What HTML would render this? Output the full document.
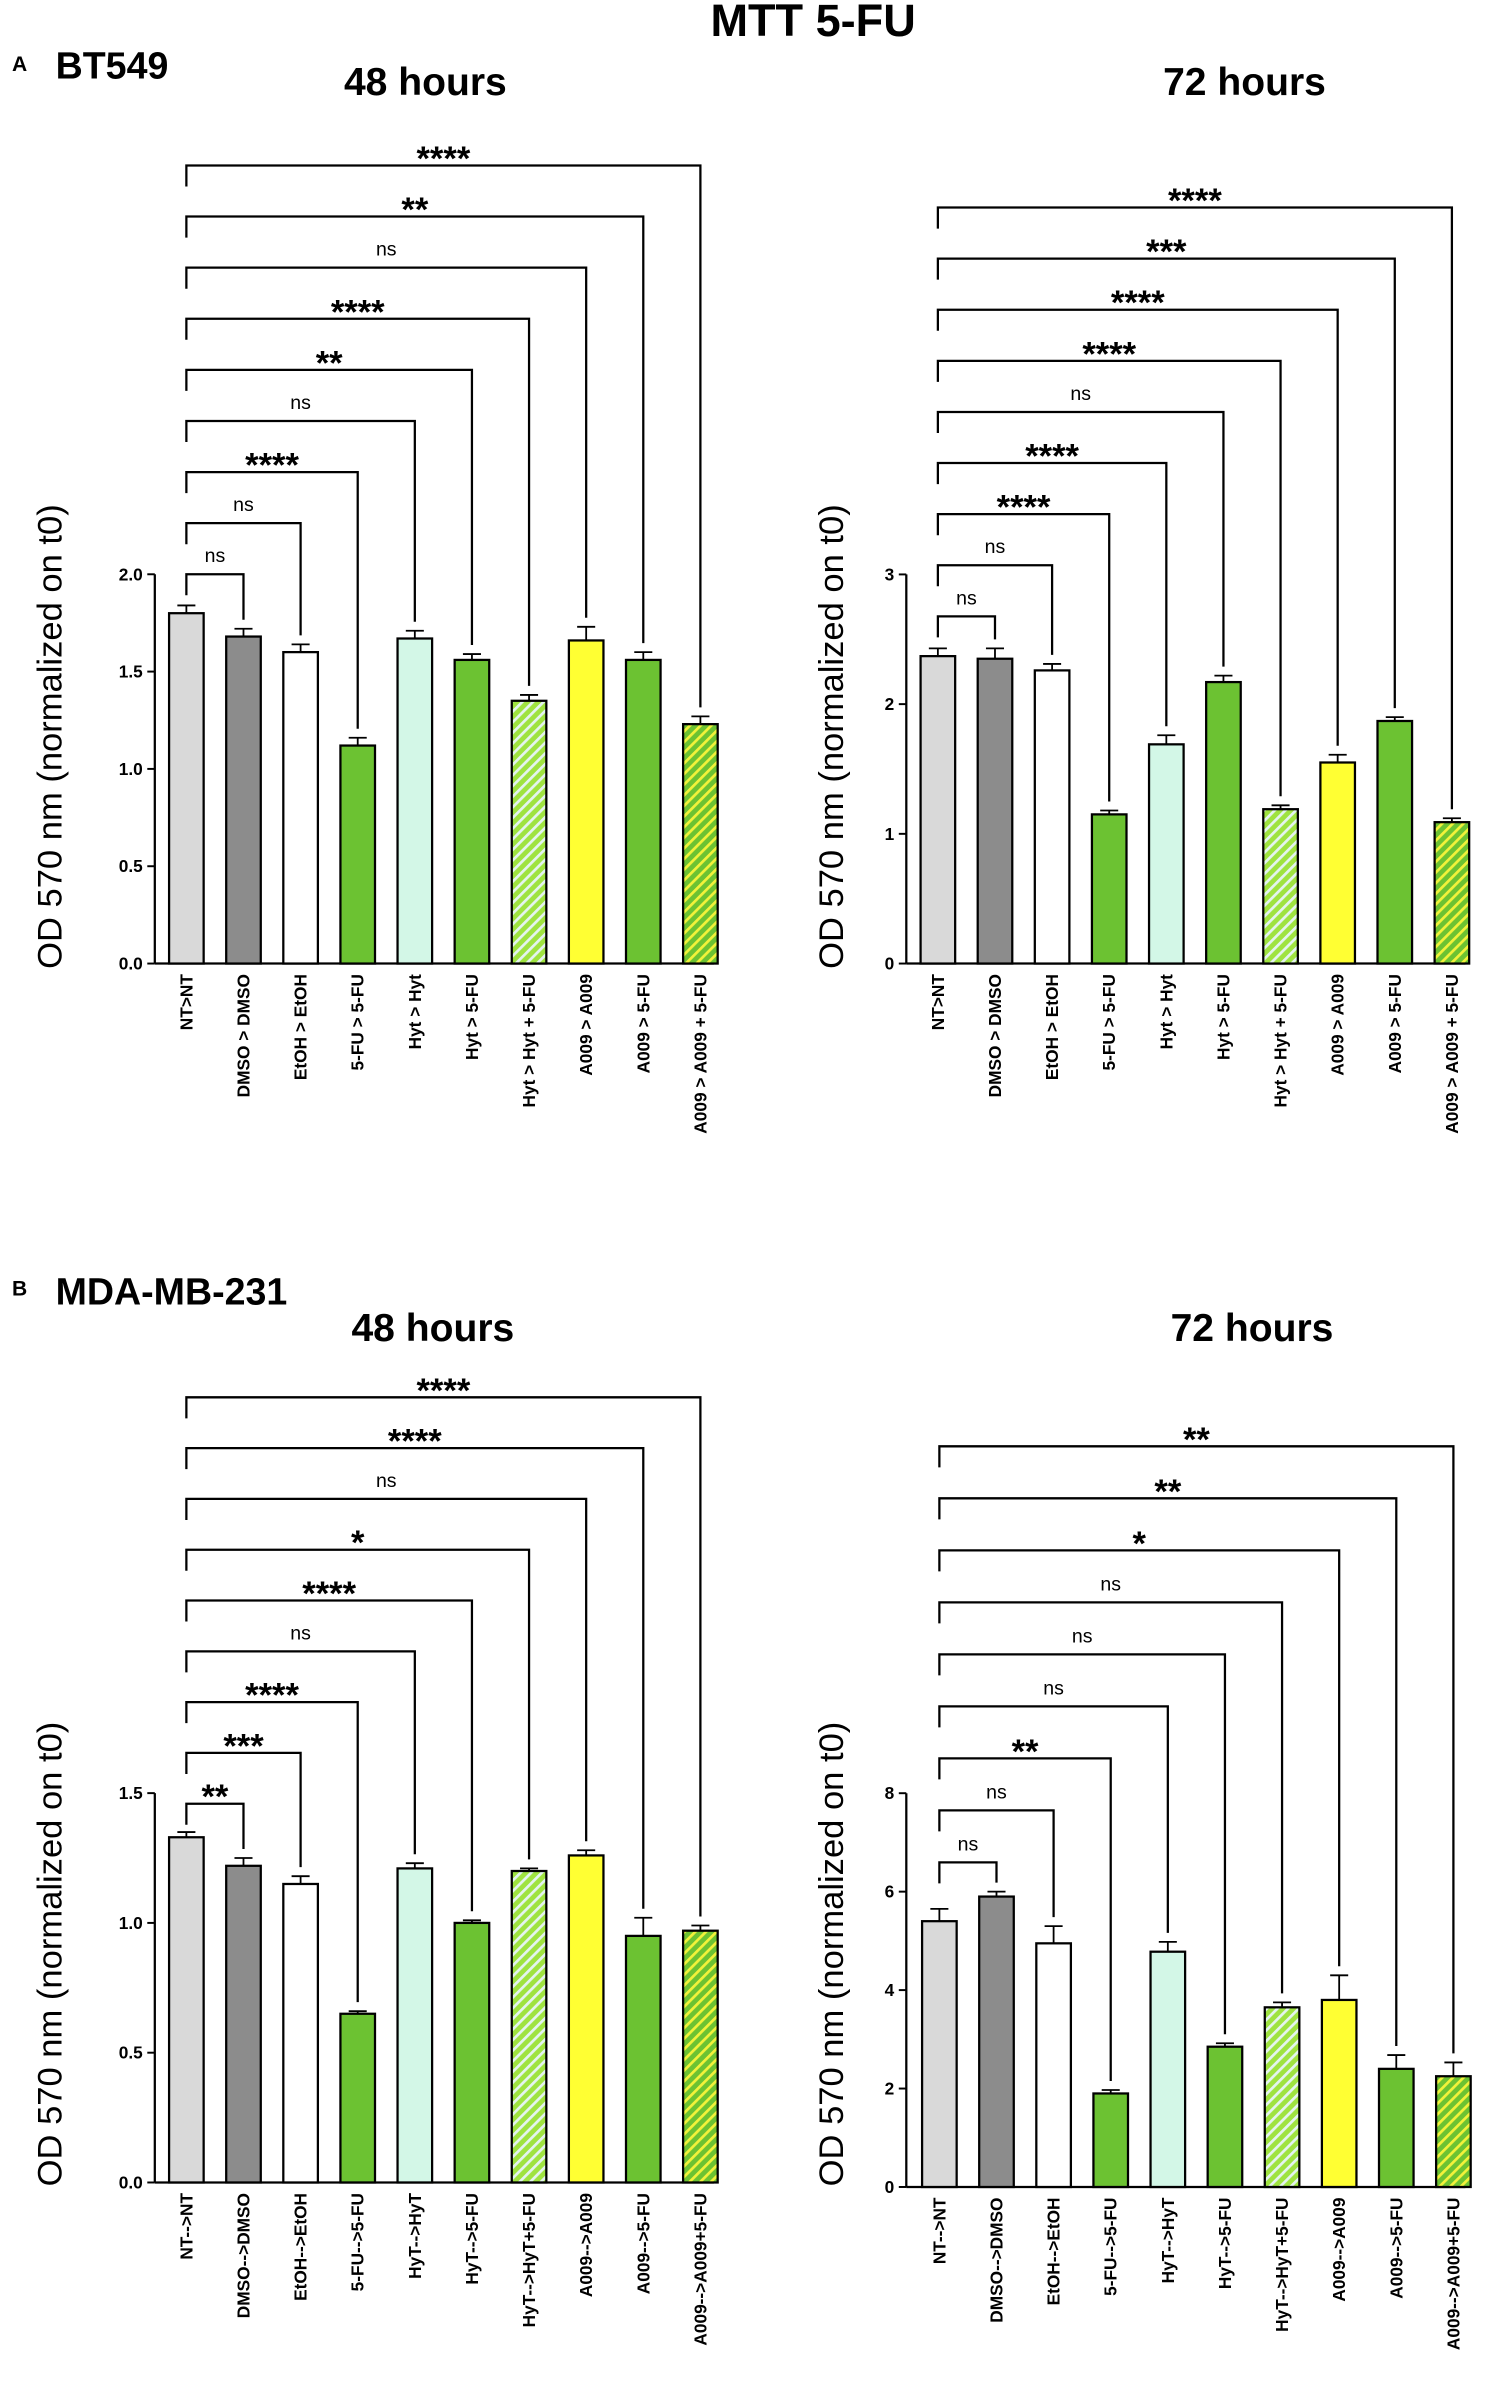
<!DOCTYPE html>
<html><head><meta charset="utf-8"><style>
html,body{margin:0;padding:0;background:#fff}
svg{display:block}
text{font-family:"Liberation Sans",Arial,sans-serif}
</style></head><body>
<svg id="s" width="1503" height="2381" viewBox="0 0 1000 1584" xmlns="http://www.w3.org/2000/svg">
<defs>
<pattern id="h1" patternUnits="userSpaceOnUse" width="5" height="5" patternTransform="rotate(45)">
<rect width="5" height="5" fill="#9fe340"/><rect width="1.8" height="5" fill="#e4f4f0"/></pattern>
<pattern id="h2" patternUnits="userSpaceOnUse" width="5" height="5" patternTransform="rotate(45)">
<rect width="5" height="5" fill="#6cc232"/><rect width="1.8" height="5" fill="#f2f23a"/></pattern>
</defs>
<text x="541" y="24" font-size="30" font-weight="bold" text-anchor="middle">MTT 5-FU</text>
<text x="8" y="47" font-size="14" font-weight="bold">A</text>
<text x="37" y="52" font-size="25" font-weight="bold">BT549</text>
<text x="283" y="63" font-size="26" font-weight="bold" text-anchor="middle">48 hours</text>
<text x="828" y="63" font-size="26" font-weight="bold" text-anchor="middle">72 hours</text>
<text x="8" y="862" font-size="14" font-weight="bold">B</text>
<text x="37" y="868" font-size="25" font-weight="bold">MDA-MB-231</text>
<text x="288" y="892" font-size="26" font-weight="bold" text-anchor="middle">48 hours</text>
<text x="833" y="892" font-size="26" font-weight="bold" text-anchor="middle">72 hours</text>
<g id="g"></g>
</svg>
<script>
var g=document.getElementById('g'),h='';
var fills=['#d9d9d9','#8c8c8c','#ffffff','#6cc232','#d3f7e7','#6cc232','url(#h1)','#ffff33','#6cc232','url(#h2)'];
var la=['NT>NT','DMSO > DMSO','EtOH > EtOH','5-FU > 5-FU','Hyt > Hyt','Hyt > 5-FU','Hyt > Hyt + 5-FU','A009 > A009','A009 > 5-FU','A009 > A009 + 5-FU'];
var lb=['NT-->NT','DMSO-->DMSO','EtOH-->EtOH','5-FU-->5-FU','HyT-->HyT','HyT-->5-FU','HyT-->HyT+5-FU','A009-->A009','A009-->5-FU','A009-->A009+5-FU'];
var P=[
{ax:103,y0:641,ppu:129.5,ticks:[0,.5,1,1.5,2],dec:1,x0:124,xe:475,lv0:382,st:34,lab:la,
 v:[1.80,1.68,1.60,1.12,1.67,1.56,1.35,1.66,1.56,1.23],e:[.04,.04,.04,.04,.04,.03,.03,.07,.04,.04],
 s:['ns','ns','****','ns','**','****','ns','**','****'],yl:[33,490]},
{ax:603,y0:641,ppu:86.3,ticks:[0,1,2,3],dec:0,x0:624,xe:975,lv0:410,st:34,lab:la,
 v:[2.37,2.35,2.26,1.15,1.69,2.17,1.19,1.55,1.87,1.09],e:[.06,.08,.05,.03,.07,.05,.03,.06,.03,.03],
 s:['ns','ns','****','****','ns','****','****','***','****'],yl:[553,490]},
{ax:103,y0:1452,ppu:172.7,ticks:[0,.5,1,1.5],dec:1,x0:124,xe:475,lv0:1200,st:33.8,lab:lb,
 v:[1.33,1.22,1.15,0.65,1.21,1.00,1.20,1.26,0.95,0.97],e:[.02,.03,.03,.01,.02,.01,.01,.02,.07,.02],
 s:['**','***','****','ns','****','*','ns','****','****'],yl:[33,1300]},
{ax:603,y0:1455,ppu:32.75,ticks:[0,2,4,6,8],dec:0,x0:625,xe:975,lv0:1239,st:34.6,lab:lb,
 v:[5.4,5.9,4.95,1.9,4.78,2.85,3.65,3.8,2.4,2.25],e:[.25,.1,.35,.07,.2,.07,.1,.5,.28,.28],
 s:['ns','ns','**','ns','ns','ns','*','**','**'],yl:[553,1300]}];
P.forEach(function(p){
 var sp=38,bw=23,top=p.y0-p.ticks[p.ticks.length-1]*p.ppu;
 h+='<line x1="'+p.ax+'" y1="'+top+'" x2="'+p.ax+'" y2="'+p.y0+'" stroke="#000" stroke-width="1.5"/>';
 h+='<line x1="'+p.ax+'" y1="'+p.y0+'" x2="'+p.xe+'" y2="'+p.y0+'" stroke="#000" stroke-width="1.5"/>';
 p.ticks.forEach(function(t){var y=p.y0-t*p.ppu;
  h+='<line x1="'+(p.ax-5)+'" y1="'+y+'" x2="'+p.ax+'" y2="'+y+'" stroke="#000" stroke-width="1.3"/>';
  h+='<text x="'+(p.ax-8)+'" y="'+(y+4)+'" font-size="11.5" font-weight="bold" text-anchor="end">'+t.toFixed(p.dec)+'</text>';});
 h+='<text transform="translate('+(p.yl[0]+8)+','+p.yl[1]+') rotate(-90)" font-size="23" text-anchor="middle">OD 570 nm (normalized on t0)</text>';
 var tops=[];
 p.v.forEach(function(v,i){var cx=p.x0+sp*i,y=p.y0-v*p.ppu,ey=p.y0-(v+p.e[i])*p.ppu;tops.push(ey);
  h+='<line x1="'+cx+'" y1="'+ey+'" x2="'+cx+'" y2="'+y+'" stroke="#000" stroke-width="1.2"/>';
  h+='<line x1="'+(cx-6)+'" y1="'+ey+'" x2="'+(cx+6)+'" y2="'+ey+'" stroke="#000" stroke-width="1.2"/>';
  h+='<rect x="'+(cx-bw/2)+'" y="'+y+'" width="'+bw+'" height="'+(p.y0-y)+'" fill="'+fills[i]+'" stroke="#000" stroke-width="1.5"/>';
  h+='<text transform="translate('+(cx+4)+','+(p.y0+7)+') rotate(-90)" font-size="11.5" font-weight="bold" text-anchor="end">'+p.lab[i].replace(/>/g,'&gt;')+'</text>';});
 p.s.forEach(function(s,k){var i=k+1,y=p.lv0-p.st*k,xr=p.x0+sp*i,xl=p.x0;
  h+='<polyline points="'+xl+','+(y+14)+' '+xl+','+y+' '+xr+','+y+' '+xr+','+(tops[i]-6)+'" fill="none" stroke="#000" stroke-width="1.5"/>';
  var mx=(xl+xr)/2;
  if(s=='ns')h+='<text x="'+mx+'" y="'+(y-8)+'" font-size="13" text-anchor="middle">ns</text>';
  else h+='<text x="'+mx+'" y="'+(y+3)+'" font-size="23" font-weight="bold" text-anchor="middle">'+s+'</text>';});
});
g.innerHTML=h;
</script>
</body></html>
